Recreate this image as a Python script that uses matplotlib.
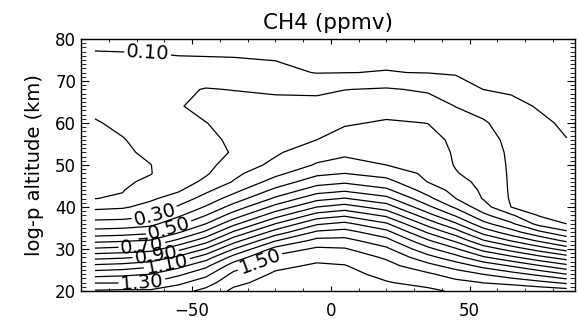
import numpy as np
import matplotlib
matplotlib.use('Agg')
import matplotlib.pyplot as plt
from matplotlib.ticker import MultipleLocator

# grid nodes (latitude, log-p altitude)
lats = [-85, -75, -65, -55, -45, -35, -20, -5, 5, 20, 35, 45, 55, 65, 75, 85]
alts = [20, 22, 24, 26, 28, 30, 32, 34, 36, 38, 40, 42, 44, 46, 48, 50,
        53, 56, 60, 64, 68, 72, 76, 80]

# CH4 (ppmv) profiles, one per latitude, values at alts
p_85s = [1.412, 1.293, 1.16, 1.021, 0.869, 0.715, 0.571, 0.438, 0.336, 0.256, 0.175, 0.099,
         0.093, 0.087, 0.081, 0.075, 0.078, 0.085, 0.095, 0.115, 0.14, 0.13, 0.104, 0.09]
p_75s = [1.419, 1.294, 1.175, 1.038, 0.885, 0.731, 0.586, 0.45, 0.343, 0.261, 0.188, 0.108,
         0.0965, 0.092, 0.089, 0.085, 0.091, 0.097, 0.113, 0.134, 0.145, 0.124, 0.103, 0.09]
p_65s = [1.418, 1.3, 1.2, 1.077, 0.917, 0.754, 0.607, 0.476, 0.368, 0.286, 0.232, 0.185,
         0.147, 0.109, 0.098, 0.099, 0.11, 0.121, 0.137, 0.152, 0.148, 0.125, 0.102, 0.09]
p_55s = [1.46, 1.376, 1.279, 1.167, 1.023, 0.869, 0.721, 0.588, 0.475, 0.382, 0.311, 0.243,
         0.187, 0.149, 0.128, 0.125, 0.1375, 0.15, 0.17, 0.192, 0.182, 0.14, 0.1, 0.088]
p_45s = [1.529, 1.454, 1.373, 1.276, 1.153, 1.008, 0.857, 0.72, 0.6, 0.5, 0.409, 0.34,
         0.278, 0.222, 0.188, 0.169, 0.156, 0.174, 0.198, 0.23, 0.205, 0.143, 0.098, 0.085]
p_35s = [1.622, 1.573, 1.524, 1.45, 1.338, 1.2, 1.057, 0.914, 0.773, 0.647, 0.54, 0.445,
         0.369, 0.306, 0.276, 0.25, 0.21, 0.219, 0.23, 0.24, 0.197, 0.139, 0.096, 0.082]
p_20s = [1.67, 1.643, 1.615, 1.577, 1.526, 1.433, 1.292, 1.143, 1.0, 0.86, 0.731, 0.617,
         0.523, 0.44, 0.374, 0.321, 0.288, 0.272, 0.25, 0.223, 0.189, 0.119, 0.092, 0.08]
p_05s = [1.68, 1.658, 1.636, 1.613, 1.576, 1.518, 1.43, 1.318, 1.186, 1.043, 0.9, 0.769,
         0.653, 0.557, 0.477, 0.41, 0.353, 0.3, 0.273, 0.236, 0.178, 0.097, 0.087, 0.075]
p_05n = [1.67, 1.648, 1.627, 1.605, 1.561, 1.508, 1.432, 1.34, 1.225, 1.086, 0.943, 0.807,
         0.684, 0.583, 0.5, 0.439, 0.378, 0.339, 0.29, 0.25, 0.198, 0.099, 0.087, 0.075]
p_20n = [1.62, 1.606, 1.575, 1.533, 1.487, 1.42, 1.336, 1.233, 1.1125, 0.98, 0.85, 0.729,
         0.621, 0.533, 0.4625, 0.4, 0.373, 0.346, 0.31, 0.262, 0.209, 0.102, 0.088, 0.075]
p_35n = [1.62, 1.57, 1.516, 1.433, 1.335, 1.228, 1.112, 0.9875, 0.8625, 0.7375, 0.622, 0.527,
         0.455, 0.397, 0.379, 0.36, 0.342, 0.324, 0.299, 0.247, 0.187, 0.098, 0.0875, 0.075]
p_45n = [1.586, 1.529, 1.455, 1.356, 1.2375, 1.1125, 0.98, 0.847, 0.713, 0.589, 0.483, 0.401,
         0.369, 0.3375, 0.306, 0.294, 0.29, 0.285, 0.2425, 0.198, 0.132, 0.094, 0.082, 0.07]
p_55n = [1.55, 1.498, 1.398, 1.269, 1.115, 0.9615, 0.808, 0.664, 0.531, 0.425, 0.34, 0.294,
         0.282, 0.27, 0.26, 0.25, 0.241, 0.23, 0.212, 0.16, 0.0994, 0.088, 0.0765, 0.065]
p_65n = [1.59, 1.469, 1.34, 1.192, 1.025, 0.858, 0.692, 0.543, 0.418, 0.315, 0.199, 0.19,
         0.188, 0.188, 0.188, 0.188, 0.186, 0.18, 0.15, 0.114, 0.093, 0.082, 0.071, 0.06]
p_75n = [1.571, 1.429, 1.275, 1.108, 0.933, 0.755, 0.583, 0.423, 0.267, 0.194, 0.188, 0.18,
         0.17, 0.157, 0.151, 0.145, 0.136, 0.126, 0.11, 0.096, 0.086, 0.0755, 0.065, 0.055]
p_85n = [1.55, 1.38, 1.199, 1.027, 0.85, 0.655, 0.475, 0.321, 0.199, 0.189, 0.178, 0.167,
         0.156, 0.1455, 0.137, 0.128, 0.114, 0.101, 0.092, 0.0836, 0.075, 0.067, 0.0584, 0.05]

label_levels = [0.1, 0.3, 0.5, 0.7, 0.9, 1.1, 1.3, 1.5]
plain_levels = [0.2, 0.4, 0.6, 0.8, 1.0, 1.2, 1.4, 1.6]
label_pos = [(-66, 76.5), (-63, 37.3), (-58, 34.0), (-68, 30.4),
             (-63, 28.3), (-59, 26.4), (-68, 21.8), (-26, 27.8)]

ch4 = np.column_stack([p_85s, p_75s, p_65s, p_55s, p_45s, p_35s, p_20s, p_05s,
                       p_05n, p_20n, p_35n, p_45n, p_55n, p_65n, p_75n, p_85n])

fig = plt.figure(figsize=(5.79, 3.24), dpi=100)
ax = fig.add_axes([0.1399, 0.1019, 0.8532, 0.7778])

ax.contour(lats, alts, ch4, levels=plain_levels, colors='black', linewidths=0.9)
cs = ax.contour(lats, alts, ch4, levels=label_levels, colors='black', linewidths=0.9)
ax.clabel(cs, fmt='%.2f', fontsize=14, inline=True, inline_spacing=3, manual=label_pos)

ax.set_xlim(-90, 88)
ax.set_ylim(20, 80)
ax.set_xticks([-50, 0, 50])
ax.set_yticks([20, 30, 40, 50, 60, 70, 80])
ax.xaxis.set_minor_locator(MultipleLocator(10))
ax.yaxis.set_minor_locator(MultipleLocator(1))
ax.tick_params(axis='x', which='major', direction='in', length=3.6, top=True, labelsize=12, pad=8)
ax.tick_params(axis='x', which='minor', direction='in', length=2.2, top=True)
ax.tick_params(axis='y', which='major', direction='in', length=5.8, right=True, labelsize=12)
ax.tick_params(axis='y', which='minor', direction='in', length=3.6, right=True)
for s in ax.spines.values():
    s.set_linewidth(1.0)

ax.set_title('CH4 (ppmv)', fontsize=15.5, pad=7)
ax.set_ylabel('log-p altitude (km)', fontsize=14, labelpad=8)

fig.savefig('out.png', dpi=100)
